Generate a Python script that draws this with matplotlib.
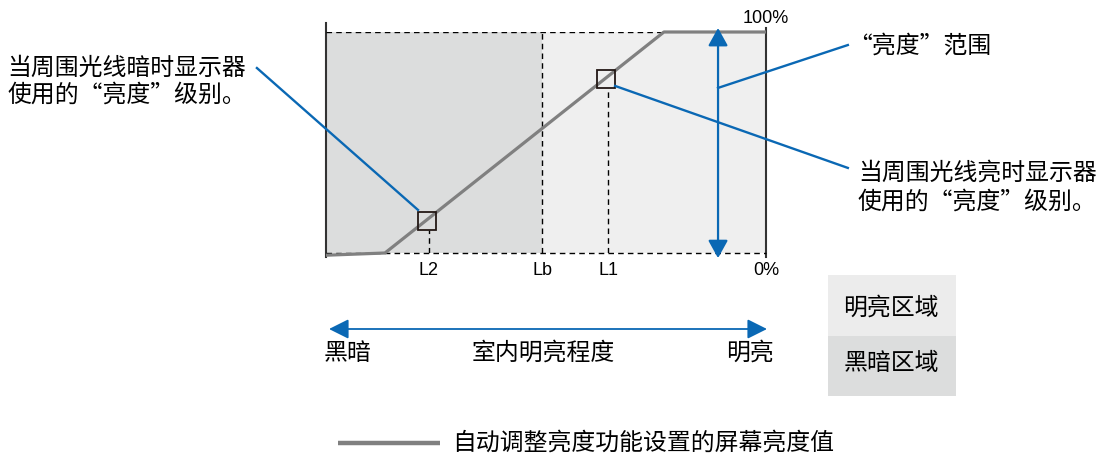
import matplotlib
matplotlib.use("Agg")
import matplotlib.pyplot as plt
from matplotlib.lines import Line2D
from matplotlib.patches import FancyArrowPatch, Rectangle

plt.rcParams["font.family"] = ["Noto Sans CJK SC", "DejaVu Sans"]

W, H = 1105, 454

# 环境光 (0-100) -> 屏幕亮度 (%)
CURVE_X = [0, 13.4, 76.8, 100]
CURVE_Y = [-1, 0, 100, 100]

MARK_NAMES = ["L2", "Lb", "L1"]
MARK_X = [23.4, 49.1, 64.1]
SQUARE_X = [23.0, 63.6]
SQUARE_Y = [14.5, 78.7]
RANGE_X = 89.1

DARK_COLOR = "#dcdddd"
LIGHT_COLOR = "#efefef"
BLUE = "#0a68b4"
GRAY = "#808080"
FONT_CJK = 17.2


def fx(x):
    return x / W


def fy(y):
    return 1 - y / H


fig = plt.figure(figsize=(W / 100, H / 100), dpi=100)
ax = fig.add_axes([fx(326), fy(253), 440 / W, 221 / H])
ax.set_xlim(0, 100)
ax.set_ylim(0, 100)
ax.axis("off")

# regions
ax.axvspan(0, MARK_X[1], color=DARK_COLOR, lw=0, zorder=0)
ax.axvspan(MARK_X[1], 100, color=LIGHT_COLOR, lw=0, zorder=0)

# frame
ax.plot([0, 0], [-1.8, 104], color="#333333", lw=1.5, clip_on=False)
ax.plot([100, 100], [-1.8, 102], color="#333333", lw=1.5, clip_on=False)
ax.plot([0, CURVE_X[2]], [100, 100], color="black", lw=1, ls=(0, (4, 3)))
ax.plot([0, 100], [0, 0], color="black", lw=1, ls=(0, (4, 3)), clip_on=False)

# dashed guides
ax.plot([MARK_X[0], MARK_X[0]], [0, SQUARE_Y[0] - 4], color="black", lw=1, ls=(0, (4, 3)))
ax.plot([MARK_X[1], MARK_X[1]], [0, 100], color="black", lw=1, ls=(0, (4, 3)))
ax.plot([MARK_X[2], MARK_X[2]], [0, SQUARE_Y[1] - 4], color="black", lw=1, ls=(0, (4, 3)))

# curve
ax.plot(CURVE_X, CURVE_Y, color=GRAY, lw=2.3, clip_on=False, solid_capstyle="butt", zorder=3)
ax.plot(SQUARE_X, SQUARE_Y, ls="none", marker="s", ms=13.5, mfc="none",
        mec="#231815", mew=1.3, zorder=4)

# brightness range arrow
ax.add_patch(FancyArrowPatch((RANGE_X, -2.3), (RANGE_X, 101.8),
                             arrowstyle="<|-|>,head_length=0.9,head_width=0.5",
                             mutation_scale=12, color=BLUE, lw=1.6,
                             shrinkA=0, shrinkB=0, clip_on=False, zorder=5))

# callouts
ax.plot([-15.7, 20.9], [83.7, 19.5], color=BLUE, lw=1.7, clip_on=False, zorder=5)
ax.plot([65.7, 118.6], [75.6, 38.5], color=BLUE, lw=1.7, clip_on=False, zorder=5)
ax.plot([RANGE_X, 118.6], [74.7, 94.1], color=BLUE, lw=1.7, clip_on=False, zorder=5)

# axis labels
for name, x in zip(MARK_NAMES, MARK_X):
    ax.text(x, -7.7, name, ha="center", va="center", fontsize=13,
            family="Liberation Sans", clip_on=False)
ax.text(100, -7.7, "0%", ha="center", va="center", fontsize=13, family="Liberation Sans")
ax.text(100, 106.3, "100%", ha="center", va="center", fontsize=13, family="Liberation Sans")

# texts
fig.text(fx(7), fy(68), "当周围光线暗时显示器", ha="left", va="center", fontsize=FONT_CJK)
fig.text(fx(7), fy(95), "使用的“亮度”级别。", ha="left", va="center", fontsize=FONT_CJK)
fig.text(fx(848), fy(46), "“亮度”范围", ha="left", va="center", fontsize=FONT_CJK)
fig.text(fx(858), fy(173), "当周围光线亮时显示器", ha="left", va="center", fontsize=FONT_CJK)
fig.text(fx(858), fy(202), "使用的“亮度”级别。", ha="left", va="center", fontsize=FONT_CJK)

# ambient light arrow
fig.add_artist(FancyArrowPatch((fx(329), fy(329)), (fx(767), fy(329)),
                               transform=fig.transFigure,
                               arrowstyle="<|-|>,head_length=1.0,head_width=0.5",
                               mutation_scale=12, color=BLUE, lw=1.3,
                               shrinkA=0, shrinkB=0))
fig.text(fx(324), fy(353), "黑暗", ha="left", va="center", fontsize=FONT_CJK)
fig.text(fx(543), fy(353), "室内明亮程度", ha="center", va="center", fontsize=FONT_CJK,
         style="italic")
fig.text(fx(774), fy(353), "明亮", ha="right", va="center", fontsize=FONT_CJK)

# region key
fig.add_artist(Rectangle((fx(828), fy(336)), 128 / W, 61 / H, transform=fig.transFigure,
                         color="#ececec", lw=0))
fig.add_artist(Rectangle((fx(828), fy(396)), 128 / W, 60 / H, transform=fig.transFigure,
                         color=DARK_COLOR, lw=0))
fig.text(fx(891), fy(308), "明亮区域", ha="center", va="center", fontsize=FONT_CJK)
fig.text(fx(891), fy(363), "黑暗区域", ha="center", va="center", fontsize=FONT_CJK)

# legend
fig.add_artist(Line2D([fx(338), fx(440)], [fy(443), fy(443)], transform=fig.transFigure,
                      color=GRAY, lw=3.2, solid_capstyle="butt"))
fig.text(fx(452), fy(443), "自动调整亮度功能设置的屏幕亮度值", ha="left", va="center",
         fontsize=FONT_CJK)

fig.savefig("out.png", dpi=100)
